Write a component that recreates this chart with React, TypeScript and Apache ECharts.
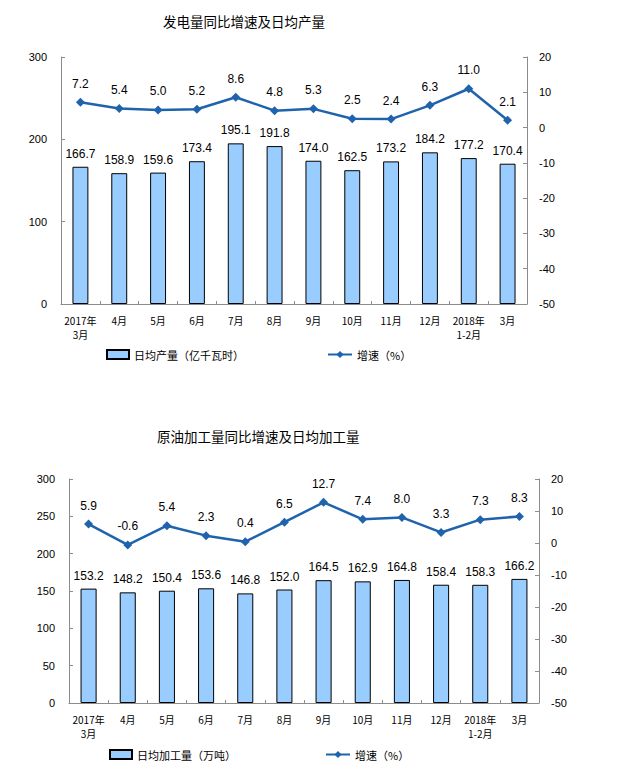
import React, { useEffect, useRef } from 'react';
import * as echarts from 'echarts';

const categories = ['2017年\n3月', '4月', '5月', '6月', '7月', '8月', '9月', '10月', '11月', '12月', '2018年\n1-2月', '3月'];

const powerDaily = [166.7, 158.9, 159.6, 173.4, 195.1, 191.8, 174.0, 162.5, 173.2, 184.2, 177.2, 170.4];
const powerGrowth = [7.2, 5.4, 5.0, 5.2, 8.6, 4.8, 5.3, 2.5, 2.4, 6.3, 11.0, 2.1];

const oilDaily = [153.2, 148.2, 150.4, 153.6, 146.8, 152.0, 164.5, 162.9, 164.8, 158.4, 158.3, 166.2];
const oilGrowth = [5.9, -0.6, 5.4, 2.3, 0.4, 6.5, 12.7, 7.4, 8.0, 3.3, 7.3, 8.3];

const powerLeftAxis = { min: 0, max: 300, interval: 100 };
const oilLeftAxis = { min: 0, max: 300, interval: 50 };
const growthAxis = { min: -50, max: 20, interval: 10 };

const FONT = "'Liberation Sans', 'Noto Sans CJK SC', sans-serif";
const CJK = "'Noto Sans CJK SC', 'Liberation Sans', sans-serif";
const BAR_COLOR = '#99ccff';
const LINE_COLOR = '#1f63ad';
const AXIS_COLOR = '#8c8c8c';

export default function App() {
  const ref = useRef<HTMLDivElement>(null);

  useEffect(() => {
    document.body.style.margin = '0';
    if (!ref.current) return;
    const chart = echarts.init(ref.current, undefined, { renderer: 'svg' });

    const fmt = (p: any) => Number(p.value).toFixed(1);

    const xAxisBase = (gridIndex: number) => ({
      type: 'category' as const,
      gridIndex,
      data: categories,
      boundaryGap: true,
      axisLine: { show: true, lineStyle: { color: AXIS_COLOR, width: 1 } },
      axisTick: { show: true, inside: true, length: 3, lineStyle: { color: AXIS_COLOR } },
      axisLabel: { color: '#000', fontSize: 10, fontFamily: CJK, lineHeight: 14, margin: 9, interval: 0 },
    });

    const yAxisBase = (gridIndex: number, range: any, position: 'left' | 'right') => ({
      type: 'value' as const,
      gridIndex,
      position,
      min: range.min,
      max: range.max,
      interval: range.interval,
      splitLine: { show: false },
      axisLine: { show: true, lineStyle: { color: AXIS_COLOR, width: 1 } },
      axisTick: { show: true, inside: true, length: 4, lineStyle: { color: AXIS_COLOR } },
      axisLabel: { color: '#000', fontSize: 11, fontFamily: FONT, margin: position === 'left' ? 14 : 12 },
    });

    const barSeries = (name: string, data: number[], xi: number, yi: number) => ({
      name,
      type: 'bar' as const,
      xAxisIndex: xi,
      yAxisIndex: yi,
      data,
      barWidth: '41%',
      itemStyle: { color: BAR_COLOR, borderColor: '#000', borderWidth: 1 },
      label: { show: true, position: 'top', distance: 7, color: '#000', fontSize: 12, fontFamily: FONT, formatter: fmt },
    });

    const lineSeries = (name: string, data: number[], xi: number, yi: number) => ({
      name,
      type: 'line' as const,
      xAxisIndex: xi,
      yAxisIndex: yi,
      data,
      symbol: 'diamond',
      symbolSize: 9,
      lineStyle: { color: LINE_COLOR, width: 2.5 },
      itemStyle: { color: LINE_COLOR },
      label: { show: true, position: 'top', distance: 8, color: '#000', fontSize: 12, fontFamily: FONT, formatter: fmt },
    });

    const legendText = { color: '#000', fontSize: 11, fontFamily: CJK };
    const barLegend = (name: string, left: number, top: number) => ({
      data: [{ name, icon: 'rect' }], left, top, padding: 0, itemWidth: 22, itemHeight: 9, itemGap: 4, textStyle: legendText,
    });
    const lineLegend = (name: string, left: number, top: number) => ({
      data: [name], left, top, padding: 0, itemWidth: 24, itemHeight: 9, itemGap: 2, textStyle: legendText,
    });

    chart.setOption({
      animation: false,
      backgroundColor: '#fff',
      title: [
        { text: '发电量同比增速及日均产量', left: 163, top: 14, padding: 0, textStyle: { fontSize: 13.5, fontWeight: 'normal', color: '#000', fontFamily: CJK } },
        { text: '原油加工量同比增速及日均加工量', left: 157, top: 429, padding: 0, textStyle: { fontSize: 13.5, fontWeight: 'normal', color: '#000', fontFamily: CJK } },
      ],
      legend: [
        barLegend('日均产量（亿千瓦时）', 106, 349),
        lineLegend('增速（%）', 327, 349),
        barLegend('日均加工量（万吨）', 109, 749),
        lineLegend('增速（%）', 325, 749),
      ],
      grid: [
        { left: 61, right: 93, top: 57, height: 247 },
        { left: 69, right: 81, top: 479, height: 224 },
      ],
      xAxis: [xAxisBase(0), xAxisBase(1)],
      yAxis: [
        yAxisBase(0, powerLeftAxis, 'left'),
        yAxisBase(0, growthAxis, 'right'),
        yAxisBase(1, oilLeftAxis, 'left'),
        yAxisBase(1, growthAxis, 'right'),
      ],
      series: [
        barSeries('日均产量（亿千瓦时）', powerDaily, 0, 0),
        lineSeries('增速（%）', powerGrowth, 0, 1),
        barSeries('日均加工量（万吨）', oilDaily, 1, 2),
        lineSeries('增速（%）', oilGrowth, 1, 3),
      ],
    });

    return () => chart.dispose();
  }, []);

  return <div ref={ref} style={{ width: 620, height: 782 }} />;
}
